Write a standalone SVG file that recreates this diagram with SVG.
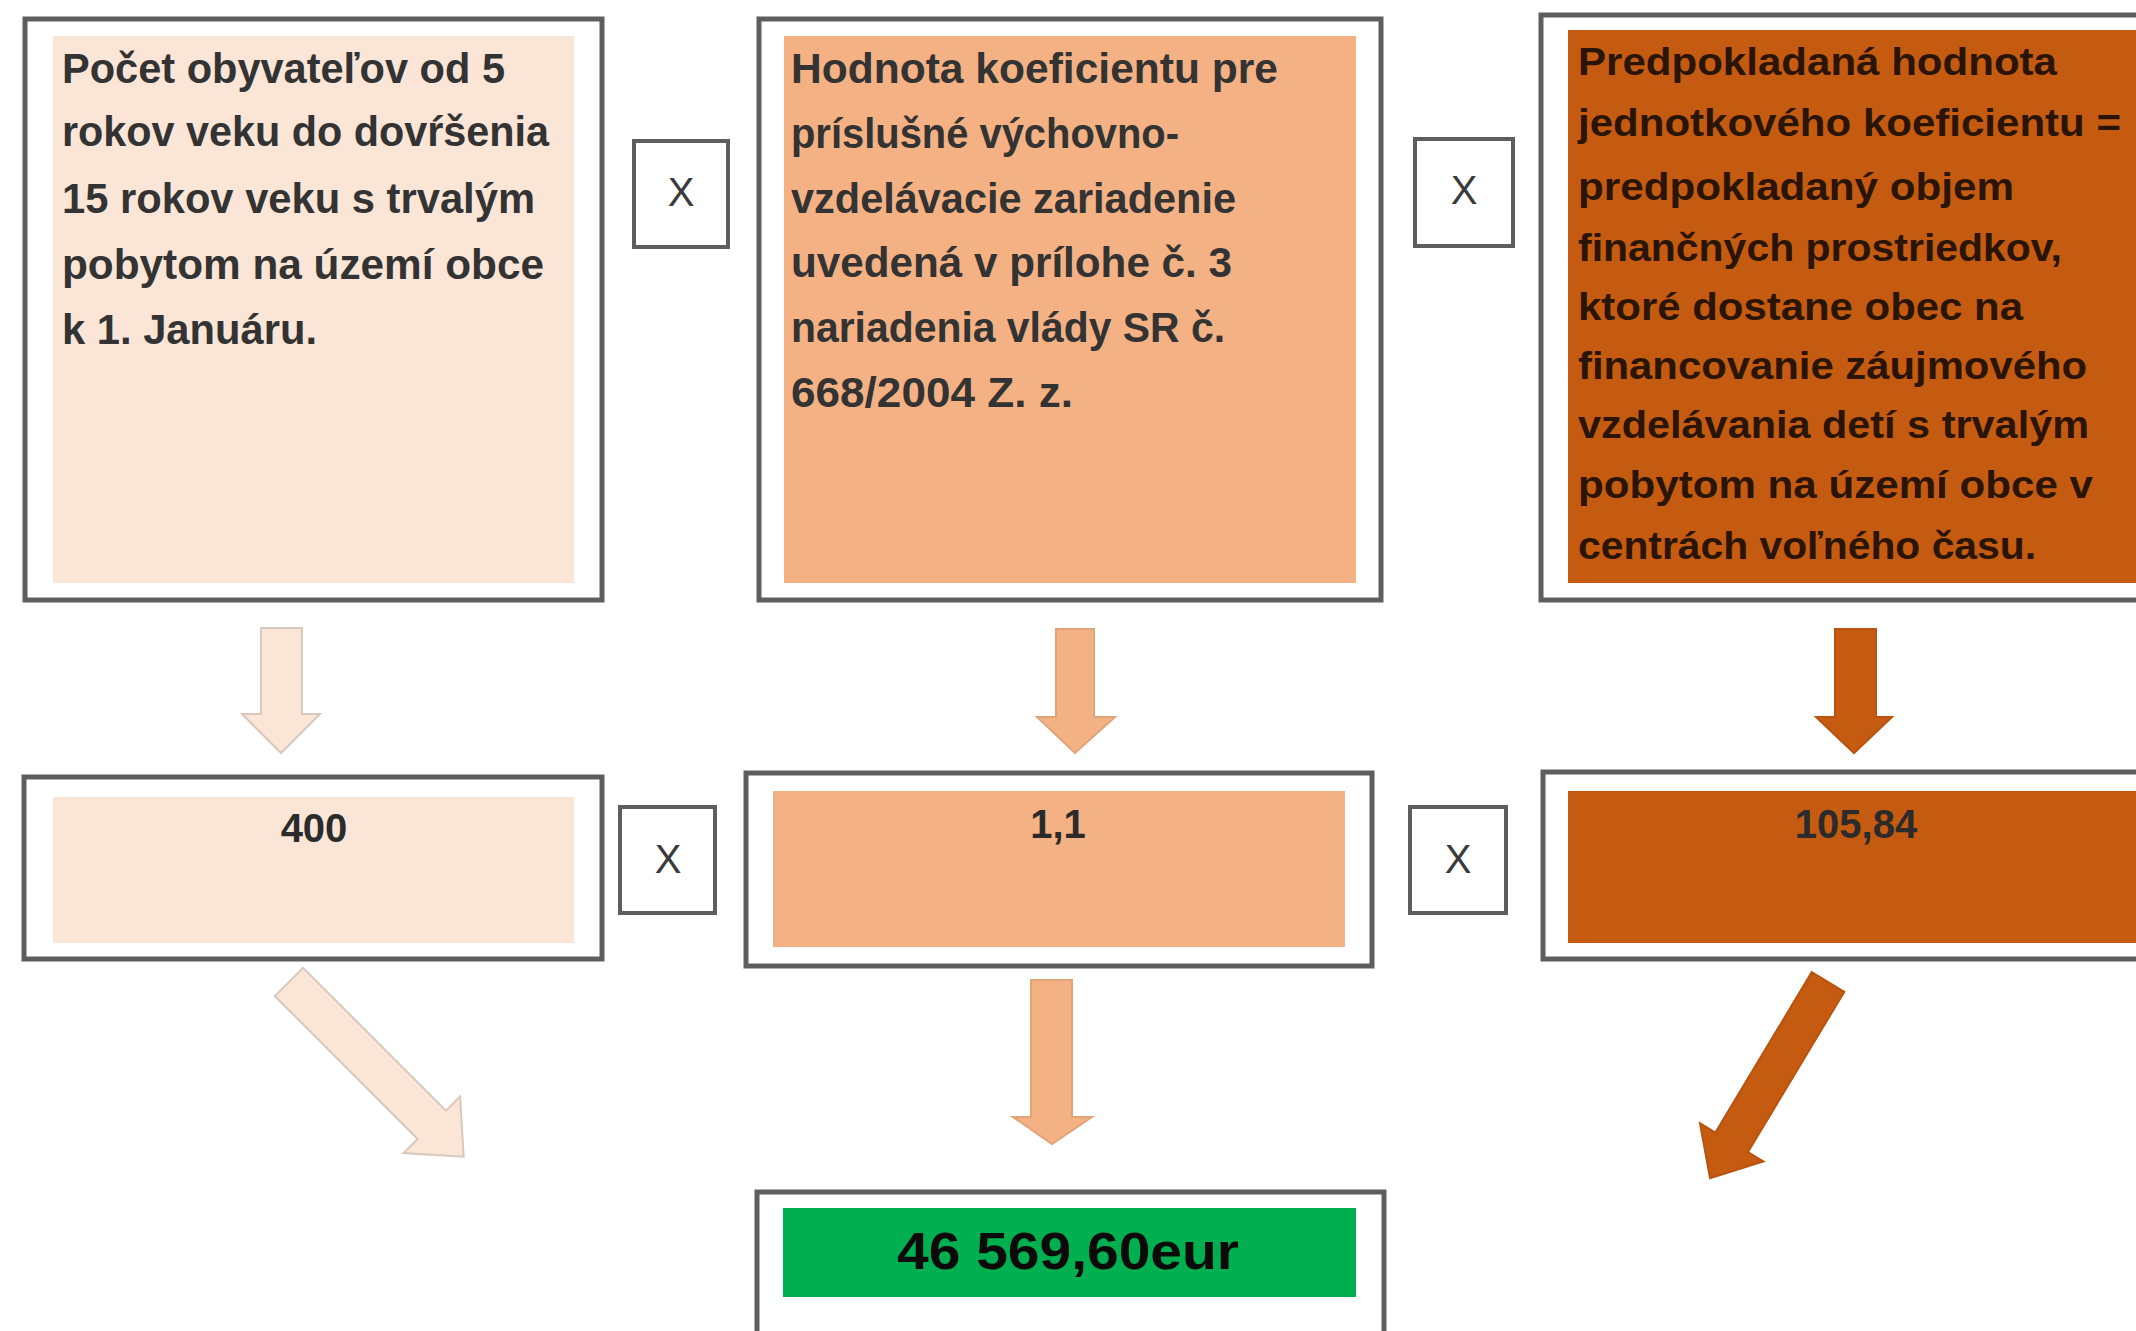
<svg xmlns="http://www.w3.org/2000/svg" width="2136" height="1331" viewBox="0 0 2136 1331">
<style>
.frame{fill:#ffffff;stroke:#5e5e5e;stroke-width:5}
.xbox{fill:#ffffff;stroke:#5e5e5e;stroke-width:4}
.c1{fill:#FBE5D6}
.c2{fill:#F4B183}
.c3{fill:#C55A11}
.cg{fill:#00B050}
.t{font-family:"Liberation Sans","Open Sans",sans-serif;font-weight:bold;font-size:42px;fill:#333333}
.t3{font-family:"Liberation Sans","Open Sans",sans-serif;font-weight:bold;font-size:39px;fill:#2a1505}
.xt{font-family:"Liberation Sans",sans-serif;font-size:40px;fill:#3a3a3a;text-anchor:middle}
.v{font-family:"Liberation Sans",sans-serif;font-weight:bold;font-size:40px;fill:#2b2b2b;text-anchor:middle}
.a1{fill:#FBE5D6;stroke:#d8c8bd;stroke-width:2}
.a2{fill:#F4B183;stroke:#e0a478;stroke-width:2}
.a3{fill:#C55A11;stroke:#b8540f;stroke-width:2}
</style>

<g id="box-obyvatelia">
<rect class="frame" x="25" y="19" width="577" height="581"/>
<rect class="c1" x="53" y="36" width="521" height="547"/>
<text class="t" x="62" y="83" textLength="443" lengthAdjust="spacingAndGlyphs">Počet obyvateľov od 5</text>
<text class="t" x="62" y="146" textLength="487" lengthAdjust="spacingAndGlyphs">rokov veku do dovŕšenia</text>
<text class="t" x="62" y="213" textLength="473" lengthAdjust="spacingAndGlyphs">15 rokov veku s trvalým</text>
<text class="t" x="62" y="279" textLength="482" lengthAdjust="spacingAndGlyphs">pobytom na území obce</text>
<text class="t" x="62" y="344" textLength="255" lengthAdjust="spacingAndGlyphs">k 1. Januáru.</text>
</g>

<g id="x-top-1">
<rect class="xbox" x="634" y="141" width="94" height="106"/>
<text class="xt" x="681" y="206">X</text>
</g>

<g id="box-koeficient">
<rect class="frame" x="759" y="19" width="622" height="581"/>
<rect class="c2" x="784" y="36" width="572" height="547"/>
<text class="t" x="791" y="83" textLength="487" lengthAdjust="spacingAndGlyphs">Hodnota koeficientu pre</text>
<text class="t" x="791" y="148" textLength="388" lengthAdjust="spacingAndGlyphs">príslušné výchovno-</text>
<text class="t" x="791" y="213" textLength="445" lengthAdjust="spacingAndGlyphs">vzdelávacie zariadenie</text>
<text class="t" x="791" y="277" textLength="441" lengthAdjust="spacingAndGlyphs">uvedená v prílohe č. 3</text>
<text class="t" x="791" y="342" textLength="434" lengthAdjust="spacingAndGlyphs">nariadenia vlády SR č.</text>
<text class="t" x="791" y="407" textLength="282" lengthAdjust="spacingAndGlyphs">668/2004 Z. z.</text>
</g>

<g id="x-top-2">
<rect class="xbox" x="1415" y="139" width="98" height="107"/>
<text class="xt" x="1464" y="204">X</text>
</g>

<g id="box-jednotkovy">
<rect class="frame" x="1541" y="15" width="620" height="585"/>
<rect class="c3" x="1568" y="30" width="580" height="553"/>
<text class="t3" x="1578" y="75" textLength="479" lengthAdjust="spacingAndGlyphs">Predpokladaná hodnota</text>
<text class="t3" x="1578" y="136" textLength="543" lengthAdjust="spacingAndGlyphs">jednotkového koeficientu =</text>
<text class="t3" x="1578" y="200" textLength="436" lengthAdjust="spacingAndGlyphs">predpokladaný objem</text>
<text class="t3" x="1578" y="261" textLength="484" lengthAdjust="spacingAndGlyphs">finančných prostriedkov,</text>
<text class="t3" x="1578" y="320" textLength="445" lengthAdjust="spacingAndGlyphs">ktoré dostane obec na</text>
<text class="t3" x="1578" y="379" textLength="509" lengthAdjust="spacingAndGlyphs">financovanie  záujmového</text>
<text class="t3" x="1578" y="438" textLength="511" lengthAdjust="spacingAndGlyphs">vzdelávania detí s trvalým</text>
<text class="t3" x="1578" y="498" textLength="515" lengthAdjust="spacingAndGlyphs">pobytom na území obce v</text>
<text class="t3" x="1578" y="559" textLength="458" lengthAdjust="spacingAndGlyphs">centrách voľného času.</text>
</g>

<g id="val-400">
<rect class="frame" x="24" y="777" width="578" height="182"/>
<rect class="c1" x="53" y="797" width="521" height="146"/>
<text class="v" x="314" y="842">400</text>
</g>

<g id="x-mid-1">
<rect class="xbox" x="620" y="807" width="95" height="106"/>
<text class="xt" x="668" y="873">X</text>
</g>

<g id="val-1-1">
<rect class="frame" x="746" y="773" width="626" height="193"/>
<rect class="c2" x="773" y="791" width="572" height="156"/>
<text class="v" x="1058" y="838">1,1</text>
</g>

<g id="x-mid-2">
<rect class="xbox" x="1410" y="807" width="96" height="106"/>
<text class="xt" x="1458" y="873">X</text>
</g>

<g id="val-105-84">
<rect class="frame" x="1543" y="772" width="620" height="187"/>
<rect class="c3" x="1568" y="791" width="580" height="152"/>
<text class="v" x="1856" y="838" fill="#2a1505">105,84</text>
</g>

<g id="result">
<rect class="frame" x="757" y="1192" width="627" height="160"/>
<rect class="cg" x="783" y="1208" width="573" height="89"/>
<text x="1068" y="1269" text-anchor="middle" font-family="Liberation Sans, sans-serif" font-weight="bold" font-size="52" fill="#0a0a0a" textLength="342" lengthAdjust="spacingAndGlyphs">46 569,60eur</text>
</g>

<g id="connectors">
<polygon class="a1" points="261,628 302,628 302,714 320,714 281,753 242,714 261,714"/>
<polygon class="a2" points="1056,629 1094,629 1094,717 1115,717 1075,753 1037,717 1056,717"/>
<polygon class="a3" points="1835,629 1876,629 1876,717 1892,717 1854,753 1816,717 1835,717"/>
<polygon class="a2" points="1031,980 1072,980 1072,1117 1092,1117 1052,1144 1013,1117 1031,1117"/>
<polygon class="a1" transform="translate(289,982) rotate(-45)" points="-20,0 20,0 20,202 40,202 0,247 -40,202 -20,202"/>
<polygon class="a3" transform="translate(1828,982) rotate(31)" points="-19,0 19,0 19,187 37,187 0,229 -37,187 -19,187"/>
</g>
</svg>
